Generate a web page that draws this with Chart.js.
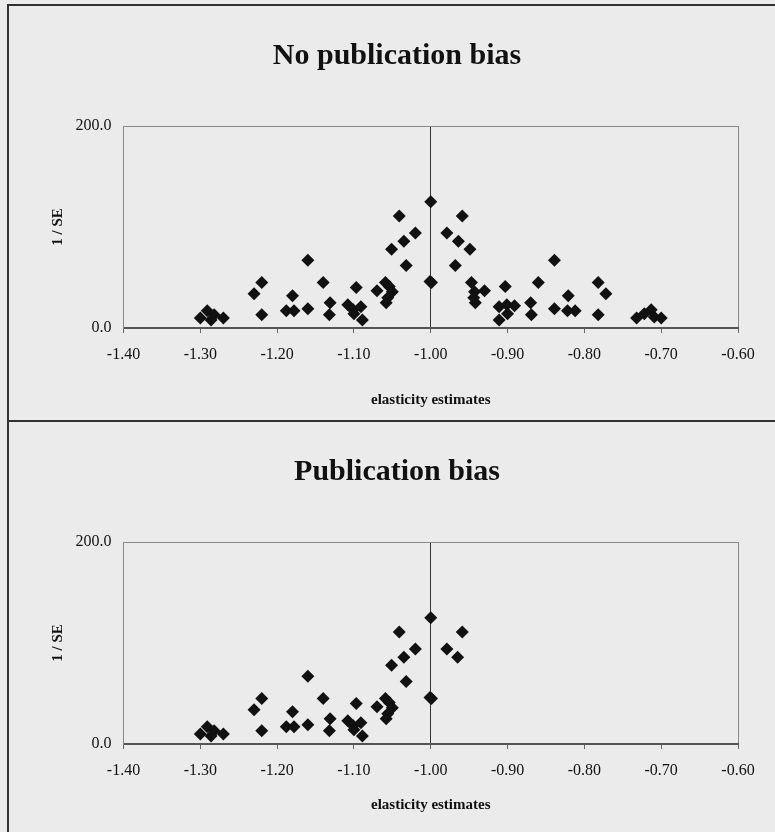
<!DOCTYPE html>
<html lang="en">
<head>
  <meta charset="UTF-8">
  <title>Funnel plots</title>
  <script src="https://cdn.jsdelivr.net/npm/chart.js"></script>
  <style>
    html, body {
      margin: 0;
      padding: 0;
      overflow: hidden;
      background-color: #ebebeb;
      width: 775px;
      height: 832px;
    }
    .frame {
      position: absolute;
      left: 7px;
      top: 4px;
      width: 800px;
      height: 900px;
      border-left: 2px solid #333;
      border-top: 2px solid #333;
    }
    .sep {
      position: absolute;
      left: 7px;
      top: 420px;
      width: 800px;
      height: 2px;
      background-color: #333;
    }
    canvas {
      position: absolute;
      left: 0;
    }
    #chartTop { top: 0; }
    #chartBottom { top: 416px; }
  </style>
</head>
<body>

<div class="frame"></div>
<div class="sep"></div>
<canvas id="chartTop" width="800" height="421"></canvas>
<canvas id="chartBottom" width="800" height="416"></canvas>

<script>
// elasticity estimates (x) and precision 1/SE (y)
const noBiasX = [
  -1.300, -1.291, -1.282, -1.286, -1.270,
  -1.230, -1.220, -1.220,
  -1.180, -1.188, -1.178,
  -1.160, -1.160,
  -1.140, -1.131, -1.132,
  -1.108, -1.097, -1.101, -1.091, -1.089, -1.100,
  -1.070, -1.059, -1.054, -1.050, -1.058, -1.056,
  -1.051, -1.041, -1.035, -1.020, -1.032,
  -1.000, -1.001, -0.999,
  -0.959, -0.979, -0.964, -0.949, -0.968,
  -0.947, -0.930, -0.943, -0.942, -0.944,
  -0.903, -0.911, -0.901, -0.891, -0.911, -0.900,
  -0.860, -0.870, -0.869,
  -0.839, -0.839,
  -0.821, -0.822, -0.812,
  -0.782, -0.772, -0.782,
  -0.732, -0.722, -0.713, -0.709, -0.700
];
const noBiasY = [
  10, 17, 13, 8, 10,
  34, 45, 13,
  32, 17, 17,
  67, 19,
  45, 25, 13,
  23, 40, 18, 21, 8, 14,
  37, 45, 41, 36, 25, 30,
  78, 111, 86, 94, 62,
  125, 46, 45,
  111, 94, 86, 78, 62,
  45, 37, 36, 25, 30,
  41, 21, 23, 22, 8, 14,
  45, 25, 13,
  67, 19,
  32, 17, 17,
  45, 34, 13,
  10, 14, 18, 11, 10
];

const pubBiasX = [
  -1.300, -1.291, -1.282, -1.286, -1.270,
  -1.230, -1.220, -1.220,
  -1.180, -1.188, -1.178,
  -1.160, -1.160,
  -1.140, -1.131, -1.132,
  -1.108, -1.097, -1.101, -1.091, -1.089, -1.100,
  -1.070, -1.059, -1.054, -1.050, -1.058, -1.056,
  -1.051, -1.041, -1.035, -1.020, -1.032,
  -1.000, -1.001, -0.999,
  -0.959, -0.979, -0.965
];
const pubBiasY = [
  10, 17, 13, 8, 10,
  34, 45, 13,
  32, 17, 17,
  67, 19,
  45, 25, 13,
  23, 40, 18, 21, 8, 14,
  37, 45, 41, 36, 25, 30,
  78, 111, 86, 94, 62,
  125, 46, 45,
  111, 94, 86
];

const xTicksMin = -1.4;
const xTicksMax = -0.6;
const yTicksMin = 0;
const yTicksMax = 200;

const serif = "'Liberation Serif', 'Times New Roman', serif";

function makeChart(id, title, xs, ys, axisHeight, xTitlePad) {
  const points = xs.map((x, i) => ({ x: x, y: ys[i] }));
  return new Chart(document.getElementById(id), {
    type: 'scatter',
    data: {
      datasets: [{
        data: points,
        pointStyle: 'rectRot',
        pointRadius: 6.5,
        pointHoverRadius: 6.5,
        pointBorderWidth: 0,
        pointBackgroundColor: '#111',
        pointBorderColor: '#111'
      }]
    },
    options: {
      responsive: false,
      animation: false,
      layout: { padding: { left: 56, right: 62, top: 0, bottom: 0 } },
      plugins: {
        legend: { display: false },
        tooltip: { enabled: false },
        title: {
          display: true,
          text: title,
          color: '#111',
          font: { family: serif, size: 30, weight: 'bold' },
          padding: { top: 38, bottom: 52 }
        }
      },
      scales: {
        x: {
          type: 'linear',
          min: xTicksMin,
          max: xTicksMax,
          afterFit: s => { s.height = axisHeight; },
          ticks: {
            stepSize: 0.1,
            autoSkip: false,
            maxRotation: 0,
            padding: 12,
            color: '#111',
            font: { family: serif, size: 16 },
            callback: v => v.toFixed(2)
          },
          grid: {
            drawTicks: true,
            tickLength: 5,
            tickColor: '#666',
            lineWidth: 1,
            color: c => {
              const v = c.tick ? c.tick.value : 0;
              if (Math.abs(v + 1) < 1e-6) return '#333';
              if (Math.abs(v - xTicksMax) < 1e-6) return '#888';
              return 'rgba(0,0,0,0)';
            }
          },
          border: { display: true, color: '#555', width: 2 },
          title: {
            display: true,
            text: 'elasticity estimates',
            color: '#111',
            font: { family: serif, size: 15, weight: 'bold' },
            padding: { top: 0, bottom: xTitlePad }
          }
        },
        y: {
          min: yTicksMin,
          max: yTicksMax,
          afterFit: s => { s.width = 67.5; },
          ticks: {
            stepSize: 200,
            padding: 12,
            color: '#111',
            font: { family: serif, size: 16 },
            callback: v => v.toFixed(1)
          },
          grid: {
            drawTicks: false,
            color: c => (c.tick && c.tick.value === yTicksMax) ? '#888' : 'rgba(0,0,0,0)'
          },
          border: { display: true, color: '#888', width: 1 },
          title: {
            display: true,
            text: '1 / SE',
            color: '#111',
            font: { family: serif, size: 15, weight: 'bold' },
            padding: { top: -7, bottom: 0 }
          }
        }
      }
    }
  });
}

makeChart('chartTop', 'No publication bias', noBiasX, noBiasY, 93, 12);
makeChart('chartBottom', 'Publication bias', pubBiasX, pubBiasY, 88, 18);
</script>
</body>
</html>
